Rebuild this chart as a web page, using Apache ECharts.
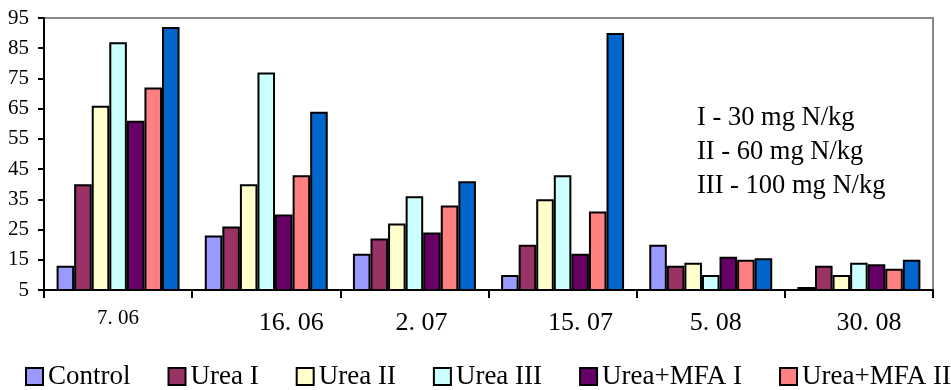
<!DOCTYPE html>
<html>
<head>
<meta charset="utf-8">
<script src="https://cdn.jsdelivr.net/npm/echarts@6/dist/echarts.min.js"></script>
<style>
html,body{margin:0;padding:0;overflow:hidden;background:#fff;}
#chart{width:1200px;height:390px;}
</style>
</head>
<body>
<div id="chart"></div>
<script>
var categories = ['7. 06', '16. 06', '2. 07', '15. 07', '5. 08', '30. 08'];
var seriesNames = ['Control', 'Urea I', 'Urea II', 'Urea III', 'Urea+MFA I', 'Urea+MFA II', 'Urea+MFA III'];
var control   = [13, 23, 17, 10, 20, 6];
var ureaI     = [40, 26, 22, 20, 13, 13];
var ureaII    = [66, 40, 27, 35, 14, 10];
var ureaIII   = [87, 77, 36, 43, 10, 14];
var mfaI      = [61, 30, 24, 17, 16, 13.5];
var mfaII     = [72, 43, 33, 31, 15, 12];
var mfaIII    = [92, 64, 41, 90, 15.5, 15];
var yTicks = { min: 5, max: 95, interval: 10 };
var noteLines = ['I - 30 mg N/kg', 'II - 60 mg N/kg', 'III - 100 mg N/kg'];

var colors = ['#9999FF', '#993366', '#FFFFCC', '#CCFFFF', '#660066', '#FF8080', '#0066CC'];
var values = [control, ureaI, ureaII, ureaIII, mfaI, mfaII, mfaIII];
// horizontal label nudges (style only), in px
var labelShift = [0, 25, 7, 18, 5, 10];
var FONT = "'Liberation Serif', 'Times New Roman', serif";

var chart = echarts.init(document.getElementById('chart'), null, { renderer: 'canvas' });
var series = seriesNames.map(function (name, i) {
  return {
    name: name,
    type: 'bar',
    data: values[i],
    barGap: '0%',
    barCategoryGap: '17%',
    clip: true,
    itemStyle: { color: colors[i], borderColor: '#000', borderWidth: 2 }
  };
});

var rich = {
  s: { fontSize: 21, lineHeight: 14, fontFamily: FONT, color: '#000' }
};
labelShift.forEach(function (sh, i) {
  rich['p' + i] = { fontSize: 26, lineHeight: 24, fontFamily: FONT, color: '#000', padding: [0, 0, 0, sh * 2] };
});

chart.setOption({
  animation: false,
  textStyle: { fontFamily: FONT },
  grid: {
    left: 44, top: 18, right: 267, bottom: 100,
    show: true, borderColor: '#888', borderWidth: 2, backgroundColor: 'transparent'
  },
  legend: {
    left: 25, top: 363, padding: 0,
    itemWidth: 17, itemHeight: 17, itemGap: 37,
    icon: 'rect',
    itemStyle: { borderColor: '#000', borderWidth: 2 },
    textStyle: { fontFamily: FONT, fontSize: 27, color: '#000', lineHeight: 27 },
    data: seriesNames
  },
  xAxis: {
    type: 'category',
    data: categories,
    boundaryGap: true,
    z: 3,
    axisLine: { lineStyle: { color: '#000', width: 2 } },
    axisTick: { show: true, alignWithLabel: false, length: 8, lineStyle: { color: '#000', width: 2 } },
    axisLabel: {
      margin: 21,
      interval: 0,
      color: '#000',
      fontFamily: FONT,
      fontSize: 26,
      lineHeight: 24,
      formatter: function (v, idx) { return idx === 0 ? '{s|' + v + '}' : '{p' + idx + '|' + v + '}'; },
      rich: rich
    }
  },
  yAxis: {
    type: 'value',
    min: yTicks.min, max: yTicks.max, interval: yTicks.interval,
    z: 3,
    splitLine: { show: false },
    axisLine: { show: true, lineStyle: { color: '#000', width: 2 } },
    axisTick: { show: true, length: 6, lineStyle: { color: '#000', width: 2 } },
    axisLabel: { margin: 15, color: '#000', fontFamily: FONT, fontSize: 21 }
  },
  graphic: [{
    type: 'text',
    left: 697, top: 101,
    style: {
      text: noteLines.join('\n'),
      font: '26.5px ' + FONT,
      lineHeight: 34,
      fill: '#000'
    }
  }],
  series: series
});
</script>
</body>
</html>
